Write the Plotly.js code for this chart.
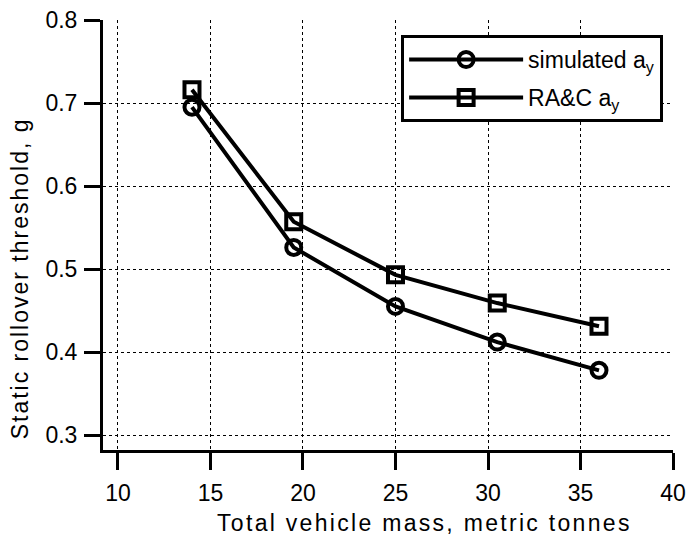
<!DOCTYPE html>
<html><head><meta charset="utf-8">
<script src="https://cdn.plot.ly/plotly-3.0.1.min.js"></script>
<style>
html,body{margin:0;padding:0;background:#fff}
g.annotation[data-index="0"] .annotation-text{letter-spacing:2.3px}
g.annotation[data-index="1"] .annotation-text{letter-spacing:2.0px}
</style>
</head><body><div id="chart" style="width:688px;height:535px"></div>
<script>
const mass = [14, 19.5, 25, 30.5, 36];
const simulatedAy = [0.695, 0.526, 0.455, 0.412, 0.378];
const racAy = [0.716, 0.557, 0.493, 0.459, 0.431];
const seriesNames = ['simulated a<sub>y</sub>', 'RA&C a<sub>y</sub>'];
const xTickVals = [10, 15, 20, 25, 30, 35, 40];
const yTickVals = [0.3, 0.4, 0.5, 0.6, 0.7, 0.8];
const xTitle = 'Total vehicle mass, metric tonnes';
const yTitle = 'Static rollover threshold, g';

const FONT = 'Liberation Sans, Arial, Helvetica, sans-serif';
const traces = [
  {x: mass, y: simulatedAy, name: seriesNames[0], legendgroup: 'a', type: 'scatter', mode: 'lines+markers',
   line: {color: '#000', width: 4},
   marker: {symbol: 'circle-open', size: 15, color: '#000', line: {width: 4, color: '#000'}}},
  {x: mass, y: racAy, name: seriesNames[1], legendgroup: 'b', type: 'scatter', mode: 'lines+markers',
   line: {color: '#000', width: 4},
   marker: {symbol: 'square-open', size: 15, color: '#000', line: {width: 4, color: '#000'}}}
];
const layout = {
  width: 688, height: 535,
  margin: {l: 103, r: 15, t: 20, b: 85},
  paper_bgcolor: '#fff', plot_bgcolor: '#fff',
  font: {family: FONT, size: 23, color: '#000'},
  xaxis: {
    range: [9.19, 40], tickvals: xTickVals, ticktext: xTickVals.map(String),
    ticks: 'outside', ticklen: 17, tickwidth: 3, tickcolor: '#000',
    showline: true, linewidth: 3, linecolor: '#000', mirror: false,
    showgrid: true, gridcolor: '#000', gridwidth: 1, griddash: 'dot',
    zeroline: false, tickfont: {size: 23}, ticklabelstandoff: 3
  },
  yaxis: {
    range: [0.282, 0.8], tickvals: yTickVals, ticktext: yTickVals.map(v => v.toFixed(1)),
    ticks: 'outside', ticklen: 16, tickwidth: 3, tickcolor: '#000',
    showline: true, linewidth: 3, linecolor: '#000', mirror: false,
    showgrid: true, gridcolor: '#000', gridwidth: 1, griddash: 'dot',
    zeroline: false, tickfont: {size: 23}, ticklabelstandoff: 2
  },
  annotations: [
    {text: xTitle, xref: 'paper', yref: 'paper', x: 0.564, y: -0.17,
     xanchor: 'center', yanchor: 'middle', showarrow: false, font: {size: 23, color: '#000'}},
    {text: yTitle, xref: 'paper', yref: 'paper', x: -0.145, y: 0.4, textangle: -90,
     xanchor: 'center', yanchor: 'middle', showarrow: false, font: {size: 23, color: '#000'}}
  ],
  showlegend: true,
  legend: {
    x: 0.523, y: 0.965, xanchor: 'left', yanchor: 'top',
    bgcolor: '#fff', bordercolor: '#000', borderwidth: 3,
    font: {size: 23, color: '#000'}, itemwidth: 114,
    traceorder: 'grouped', tracegroupgap: 5
  }
};
Plotly.newPlot('chart', traces, layout, {displayModeBar: false, staticPlot: true});
</script></body></html>
